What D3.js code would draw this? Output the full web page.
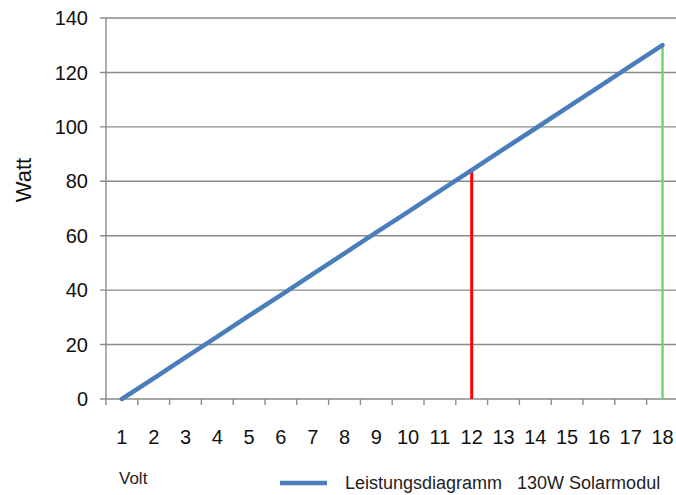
<!DOCTYPE html>
<html><head><meta charset="utf-8">
<script src="https://cdn.jsdelivr.net/npm/d3@7"></script>
<style>
html,body{margin:0;padding:0;background:#fff;}
svg{display:block;}
</style></head>
<body>
<script>
const volts = [1,2,3,4,5,6,7,8,9,10,11,12,13,14,15,16,17,18];
const watts = [0,7.6,15.3,22.9,30.6,38.2,45.9,53.5,61.2,68.8,76.5,84.1,91.8,99.4,107.1,114.7,122.4,130];
const yTicks = [0,20,40,60,80,100,120,140];
const markerRed = {volt:12, watt:84.1};
const markerGreen = {volt:18, watt:130};
const yLabel = "Watt";
const xLabel = "Volt";
const legendLabel = "Leistungsdiagramm   130W Solarmodul";

(function(){
const W = 676, H = 495;
const svg = d3.select("body").append("svg").attr("width", W).attr("height", H);

const pLeft = 106, bw = 31.8, pTop = 18, pBottom = 399;
const x = d3.scaleBand().domain(volts).range([pLeft, pLeft + volts.length * bw]).paddingInner(0).paddingOuter(0);
const y = d3.scaleLinear().domain([0,140]).range([pBottom, pTop]);
const cx = v => x(v) + x.bandwidth()/2;
const grey = "#8a8a8a";
const font = "'Liberation Sans', Arial, sans-serif";

// gridlines
svg.append("g").selectAll("line").data(yTicks).join("line")
  .attr("x1", pLeft - 6).attr("x2", W)
  .attr("y1", d => y(d)).attr("y2", d => y(d))
  .attr("stroke", grey).attr("stroke-width", 1.4);

// y axis line
svg.append("line").attr("x1", pLeft).attr("x2", pLeft).attr("y1", y(140)).attr("y2", pBottom + 6)
  .attr("stroke", grey).attr("stroke-width", 1.4);

// x ticks at band boundaries
svg.append("g").selectAll("line").data(volts.slice(1)).join("line")
  .attr("x1", d => x(d)).attr("x2", d => x(d))
  .attr("y1", pBottom).attr("y2", pBottom + 6)
  .attr("stroke", grey).attr("stroke-width", 1.4);

// y tick labels
svg.append("g").selectAll("text").data(yTicks).join("text")
  .attr("x", 88).attr("y", d => y(d)).attr("dy", "0.36em")
  .attr("text-anchor", "end").attr("font-family", font).attr("font-size", 20)
  .attr("fill", "#111").text(d => d);

// x tick labels
svg.append("g").selectAll("text").data(volts).join("text")
  .attr("x", d => cx(d)).attr("y", 444)
  .attr("text-anchor", "middle").attr("font-family", font).attr("font-size", 20)
  .attr("fill", "#111").text(d => d);

// marker lines
svg.append("line").attr("x1", cx(markerRed.volt)).attr("x2", cx(markerRed.volt))
  .attr("y1", y(0)).attr("y2", y(markerRed.watt))
  .attr("stroke", "#ff0000").attr("stroke-width", 3);
svg.append("line").attr("x1", cx(markerGreen.volt)).attr("x2", cx(markerGreen.volt))
  .attr("y1", y(0)).attr("y2", y(markerGreen.watt))
  .attr("stroke", "#6fd86a").attr("stroke-width", 2.5);

// main line
const line = d3.line().x((d,i) => cx(volts[i])).y(d => y(d));
svg.append("path").datum(watts).attr("d", line)
  .attr("fill", "none").attr("stroke", "#4a7ebb").attr("stroke-width", 4.5)
  .attr("stroke-linecap", "round").attr("stroke-linejoin", "round");

// axis titles
svg.append("text").attr("transform", "translate(31,180) rotate(-90)")
  .attr("text-anchor", "middle").attr("font-family", font).attr("font-size", 22)
  .attr("fill", "#111").text(yLabel);
svg.append("text").attr("x", 119).attr("y", 484)
  .attr("font-family", font).attr("font-size", 17).attr("fill", "#222").text(xLabel);

// legend
svg.append("line").attr("x1", 280).attr("x2", 327).attr("y1", 483).attr("y2", 483)
  .attr("stroke", "#4a7ebb").attr("stroke-width", 4.5);
svg.append("text").attr("x", 345).attr("y", 489)
  .style("white-space", "pre")
  .attr("font-family", font).attr("font-size", 18).attr("fill", "#222").text(legendLabel);
})();
</script>
</body></html>
